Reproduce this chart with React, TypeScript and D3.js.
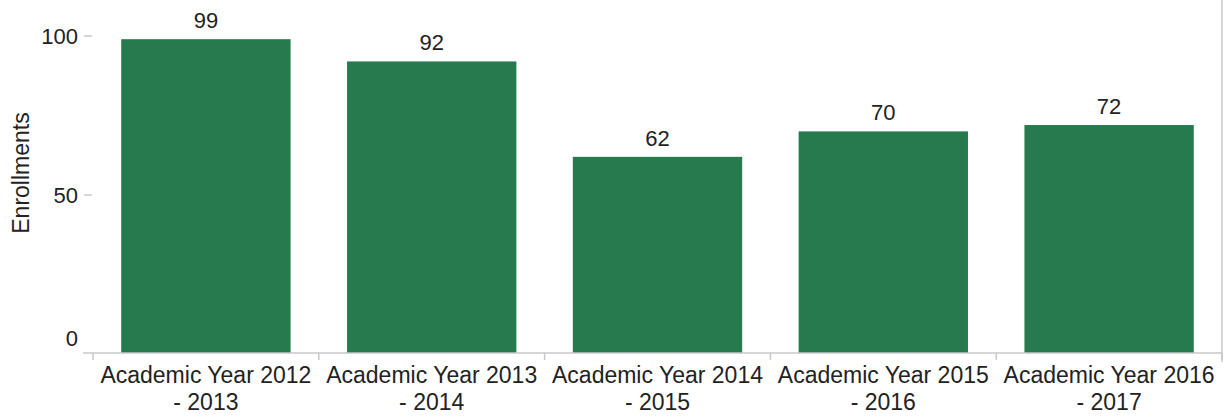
import React from "react";
import * as d3 from "d3";

const categories = [
  "Academic Year 2012 - 2013",
  "Academic Year 2013 - 2014",
  "Academic Year 2014 - 2015",
  "Academic Year 2015 - 2016",
  "Academic Year 2016 - 2017",
];
const enrollments = [99, 92, 62, 70, 72];
const yTicks = [0, 50, 100];

const W = 1228;
const H = 416;
const FONT = "'Liberation Sans', Arial, sans-serif";

export default function App() {
  const x = d3.scaleBand<string>().domain(categories).range([93, 1222]).paddingInner(0.25).paddingOuter(0.125);
  const y = d3.scaleLinear().domain([0, 100]).range([354, 36]);
  const axisY = 353;
  const boundaries = categories.map((c) => (x(c) as number) - (x.step() - x.bandwidth()) / 2);
  boundaries.push(1222);
  return (
    <svg width={W} height={H} style={{ position: "absolute", left: 0, top: 0, background: "#fff" }}>
      {/* right border */}
      <line x1={1222} x2={1222} y1={0} y2={362} stroke="#c8c8c8" strokeWidth={1.5} />
      {categories.map((c, i) => (
        <rect key={c} x={x(c)} y={y(enrollments[i])} width={x.bandwidth()} height={axisY - y(enrollments[i])} fill="#277a4d" />
      ))}
      <line x1={83} x2={1222} y1={axisY} y2={axisY} stroke="#c8c8c8" strokeWidth={1.5} />
      {boundaries.map((b, i) => (
        <line key={i} x1={b} x2={b} y1={axisY} y2={axisY + 7} stroke="#c8c8c8" strokeWidth={1.5} />
      ))}
      {yTicks.map((t) => (
        <g key={t}>
          {t !== 0 && <line x1={84} x2={92} y1={y(t)} y2={y(t)} stroke="#c8c8c8" strokeWidth={1.5} />}
          <text x={78} y={t === 0 ? 346 : y(t) + 8} textAnchor="end" fontFamily={FONT} fontSize={22} fill="#222">
            {t}
          </text>
        </g>
      ))}
      <text transform="translate(29,173) rotate(-90)" textAnchor="middle" fontFamily={FONT} fontSize={23} fill="#222">
        Enrollments
      </text>
      {categories.map((c, i) => (
        <text key={c} x={(x(c) as number) + x.bandwidth() / 2} y={y(enrollments[i]) - 11} textAnchor="middle" fontFamily={FONT} fontSize={22} fill="#222">
          {enrollments[i]}
        </text>
      ))}
      {categories.map((c) => {
        const cx = (x(c) as number) + x.bandwidth() / 2;
        const idx = c.lastIndexOf(" - ");
        return (
          <text key={c} x={cx} textAnchor="middle" fontFamily={FONT} fontSize={23} fill="#222">
            <tspan x={cx} y={383}>{c.slice(0, idx)}</tspan>
            <tspan x={cx} y={410}>{c.slice(idx + 1)}</tspan>
          </text>
        );
      })}
    </svg>
  );
}
